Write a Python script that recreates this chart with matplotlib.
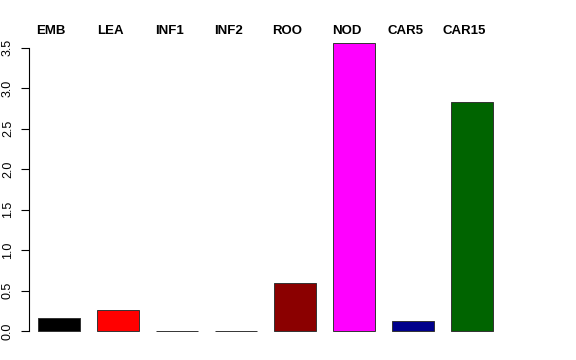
import matplotlib
matplotlib.use("Agg")
import matplotlib.pyplot as plt
import matplotlib.transforms as mtransforms
import numpy as np

plt.rcParams['font.family'] = ['Liberation Sans', 'DejaVu Sans']

categories = ['EMB', 'LEA', 'INF1', 'INF2', 'ROO', 'NOD', 'CAR5', 'CAR15']
values = [0.157, 0.256, 0.003, 0.003, 0.597, 3.564, 0.12, 2.834]
colors = ['#000000', '#FF0000', '#BEBEBE', '#BEBEBE', '#8B0000', '#FF00FF', '#00008B', '#006400']
yticks = [0.0, 0.5, 1.0, 1.5, 2.0, 2.5, 3.0, 3.5]

fig = plt.figure(figsize=(5.76, 3.6), dpi=100)
ax = fig.add_axes([29 / 576, 1 - 342.5 / 360, (540 - 29) / 576, (342.5 - 31) / 360])

x = np.arange(len(categories))
ax.bar(x, values, width=0.712, color=colors, edgecolor='#333333', linewidth=0.7)

ax.set_xlim(-0.508, 8.15)
ax.set_ylim(-0.1426, 3.707)

for s in ['top', 'right', 'bottom']:
    ax.spines[s].set_visible(False)
ax.spines['left'].set_bounds(0, 3.5)
ax.spines['left'].set_linewidth(0.8)
ax.set_xticks([])
ax.set_yticks(yticks)
ax.set_yticklabels([f'{t:.1f}' for t in yticks], rotation=90, va='center', fontsize=9)
ax.tick_params(axis='y', length=5.8, width=0.8, pad=5)

trans = mtransforms.blended_transform_factory(ax.transData, fig.transFigure)
for i, c in enumerate(categories):
    ax.text(i - 0.13, 1 - 34 / 360, c, transform=trans,
            ha='center', va='baseline', fontsize=9.5, fontweight='bold')

fig.savefig('out.png', dpi=100)
